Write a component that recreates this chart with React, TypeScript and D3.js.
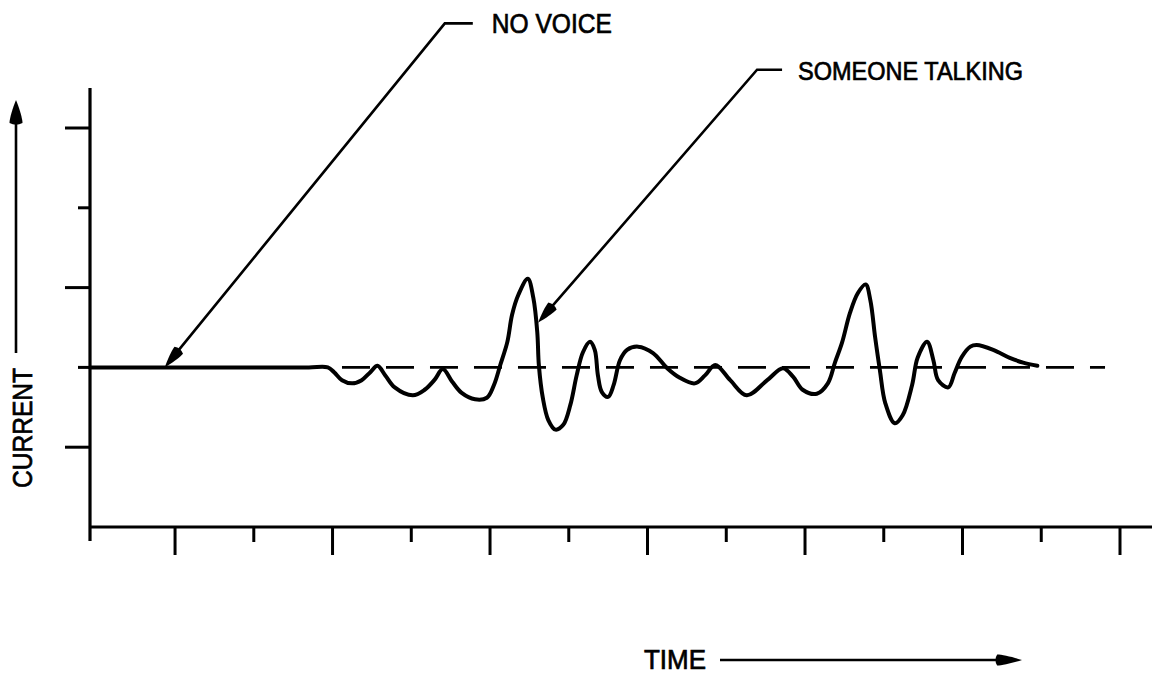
import React from 'react';
import * as d3 from 'd3';

const W = 1156;
const H = 674;

// Waveform: time (tick units of 10) and current (tick units of 10)
const time = [-0.8, 10, 20, 27, 29.4, 30.2, 31.2, 32.5, 33.7, 34.8, 35.7, 36.7, 37.9, 40.2, 41.7, 43.0, 44.0, 45.2, 46.4, 48.1, 49.6, 50.5, 51.3, 52.2, 52.8, 53.6, 54.8, 55.5, 56.0, 56.2, 56.7, 57.4, 58.3, 59.3, 60.2, 61.0, 61.8, 62.7, 63.3, 63.7, 64.2, 65.0, 65.7, 66.5, 67.4, 68.8, 70.7, 72.5, 74.1, 76.0, 77.3, 78.6, 80.5, 82.6, 85.2, 87.2, 88.5, 89.7, 91.5, 92.9, 93.8, 94.7, 95.7, 96.7, 97.7, 98.3, 98.9, 99.5, 100.2, 101.4, 102.4, 103.6, 104.3, 105.5, 106.3, 106.9, 108.2, 109.0, 109.9, 111.0, 111.8, 113.9, 116.0, 117.7, 119.5];
const current = [0, 0, 0, 0, 0, -0.6, -1.6, -2.0, -1.6, -0.6, 0.2, -1.0, -2.5, -3.5, -2.8, -1.5, -0.2, -1.8, -3.2, -4.0, -3.8, -2.2, 0.3, 3.2, 6.6, 9.1, 11.1, 8.7, 4.4, 0.3, -3.8, -6.6, -7.8, -7.2, -4.7, -1.0, 1.9, 3.2, 2.2, -1.0, -3.1, -3.7, -2.2, 0.9, 2.2, 2.6, 1.8, -0.1, -1.3, -2.0, -1.0, 0.3, -1.6, -3.5, -1.6, -0.1, -1.2, -2.8, -3.3, -2.0, 0.6, 3.1, 6.8, 9.3, 10.4, 8.4, 3.8, -0.3, -4.5, -7.0, -6.0, -2.2, 1.2, 3.2, 0.9, -1.6, -2.5, -0.7, 1.3, 2.6, 2.8, 2.2, 1.2, 0.6, 0.2];

const xTicks = [10, 20, 30, 40, 50, 60, 70, 80, 90, 100, 110, 120, 130];
const xMajor = [10, 30, 50, 70, 90, 110, 130];
const yTicks = [-10, 0, 10, 20, 30];
const yMajor = [-10, 10, 30];

const dashedFrom = 31.2;
const dashedTo = 128.1;

const noVoiceLabel = 'NO VOICE';
const noVoiceAt = { t: 8.7, v: 0 };
const talkingLabel = 'SOMEONE TALKING';
const talkingAt = { t: 56.1, v: 5.6 };
const yLabel = 'CURRENT';
const xLabel = 'TIME';

const FONT = "'Liberation Sans', Arial, Helvetica, sans-serif";

function Arrowhead({ tip, from, len = 24, hw = 5.5 }: { tip: [number, number]; from: [number, number]; len?: number; hw?: number }) {
  const ang = (Math.atan2(tip[1] - from[1], tip[0] - from[0]) * 180) / Math.PI;
  const d = `M0,0 C${-len * 0.3},${-hw * 0.5} ${-len * 0.75},${-hw} ${-len * 0.92},${-hw} Q${-len * 1.05},0 ${-len * 0.92},${hw} C${-len * 0.75},${hw} ${-len * 0.3},${hw * 0.5} 0,0 Z`;
  return <path d={d} fill="#000" transform={`translate(${tip[0]},${tip[1]}) rotate(${ang})`} />;
}

export default function App() {
  const x = d3.scaleLinear().domain([-0.8, 130]).range([90, 1120]);
  const y = d3.scaleLinear().domain([-20, 30]).range([527, 128]);

  const pts: [number, number][] = time.map((t, i) => [t, current[i]]);
  const line = d3
    .line<[number, number]>()
    .x((d) => x(d[0]))
    .y((d) => y(d[1]))
    .curve(d3.curveCatmullRom.alpha(0.5));

  const x0 = x(-0.8);
  const yBottom = y(-20);
  const yTop = y(35);

  const nvTip: [number, number] = [x(noVoiceAt.t), y(noVoiceAt.v)];
  const nvElbow: [number, number] = [nvTip[0] + 280, nvTip[1] - 344];
  const tkTip: [number, number] = [x(talkingAt.t), y(talkingAt.v)];
  const tkElbow: [number, number] = [tkTip[0] + 219, tkTip[1] - 253];

  const black = '#000';
  const textProps = { fontFamily: FONT, fill: black, stroke: black, strokeWidth: 0.7, lengthAdjust: 'spacingAndGlyphs' as const };

  return (
    <svg width={W} height={H} style={{ position: 'absolute', left: 0, top: 0, background: '#fff' }}>
      <rect x={0} y={0} width={W} height={H} fill="#fff" />

      {/* dashed zero line */}
      <line x1={x(dashedFrom)} x2={x(dashedTo)} y1={y(0)} y2={y(0)} stroke={black} strokeWidth={2.6} strokeDasharray="28 16" />

      {/* axes */}
      <line x1={x0} x2={x0} y1={yTop} y2={yBottom + 14} stroke={black} strokeWidth={3.2} />
      <line x1={x0} x2={1152} y1={yBottom} y2={yBottom} stroke={black} strokeWidth={3} />
      {yTicks.map((v) => (
        <line key={'yt' + v} x1={x0 - (yMajor.includes(v) ? 25 : 12)} x2={x0} y1={y(v)} y2={y(v)} stroke={black} strokeWidth={3} />
      ))}
      {xTicks.map((t) => (
        <line key={'xt' + t} x1={x(t)} x2={x(t)} y1={yBottom} y2={yBottom + (xMajor.includes(t) ? 28 : 15)} stroke={black} strokeWidth={3} />
      ))}

      {/* waveform */}
      <path d={line(pts) || ''} fill="none" stroke={black} strokeWidth={4} strokeLinejoin="round" strokeLinecap="round" />

      {/* NO VOICE annotation */}
      <polyline points={`${nvElbow[0] + 28},${nvElbow[1]} ${nvElbow[0]},${nvElbow[1]} ${nvTip[0] + 12},${nvTip[1] - 15}`} fill="none" stroke={black} strokeWidth={2.6} />
      <Arrowhead tip={nvTip} from={nvElbow} />
      <text x={nvElbow[0] + 47} y={nvElbow[1] + 10} fontSize={27} textLength={120} {...textProps}>{noVoiceLabel}</text>

      {/* SOMEONE TALKING annotation */}
      <polyline points={`${tkElbow[0] + 25},${tkElbow[1]} ${tkElbow[0]},${tkElbow[1]} ${tkTip[0] + 12},${tkTip[1] - 14}`} fill="none" stroke={black} strokeWidth={2.6} />
      <Arrowhead tip={tkTip} from={tkElbow} />
      <text x={tkElbow[0] + 41} y={tkElbow[1] + 10} fontSize={26} textLength={225} {...textProps}>{talkingLabel}</text>

      {/* Y label + arrow */}
      <line x1={16} x2={16} y1={353} y2={118} stroke={black} strokeWidth={2.6} />
      <Arrowhead tip={[16, 100]} from={[16, 353]} len={25} hw={6.5} />
      <text transform="translate(32,488) rotate(-90)" fontSize={27} textLength={120} {...textProps}>{yLabel}</text>

      {/* X label + arrow */}
      <text x={644} y={669} fontSize={27} textLength={62} {...textProps}>{xLabel}</text>
      <line x1={720} x2={1005} y1={660} y2={660} stroke={black} strokeWidth={2.6} />
      <Arrowhead tip={[1022, 660]} from={[720, 660]} len={27} hw={5.5} />
    </svg>
  );
}
